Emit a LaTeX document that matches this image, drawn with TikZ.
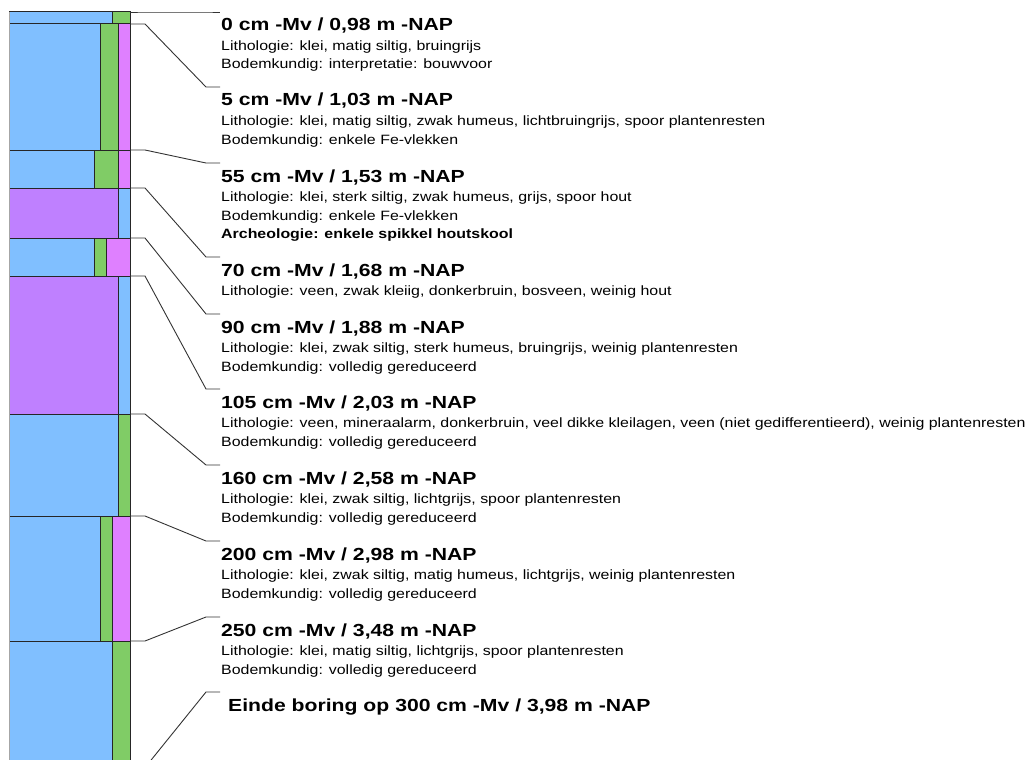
\documentclass[tikz,border=0pt]{standalone}
\usepackage{fontspec}
\setmainfont{Liberation Sans}[FakeStretch=1.18]
\newfontfamily\hdfont{Liberation Sans}[FakeStretch=1.21]
\definecolor{cblue}{RGB}{128,191,255}
\definecolor{cgreen}{RGB}{128,204,102}
\definecolor{cpink}{RGB}{223,128,255}
\definecolor{cpurple}{RGB}{191,128,255}
\newcommand\mkblock[4]{%
  \coordinate (s#1) at (130,#3);
  \coordinate (k#1) at (220,#2);
  \draw[conn] (s#1) -- ++(15,0) -- ([xshift=-14pt]k#1) -- (k#1);
  \node[hd] (h#1) at (221,#2+19) {#4};}
\begin{document}
\begin{tikzpicture}[x=1pt,y=-1pt,
  hd/.style={anchor=base west,inner sep=0pt,font=\hdfont\bfseries\fontsize{17.5}{19}\selectfont},
  tx/.style={anchor=base west,inner sep=0pt,font=\fontsize{13.5}{15}\selectfont},
  txb/.style={anchor=base west,inner sep=0pt,font=\bfseries\fontsize{13.5}{15}\selectfont},
  conn/.style={draw=black!80,line width=0.9pt},
  lay/.style={draw=black!85,line width=1pt}]
\useasboundingbox (0,0) rectangle (1029,760);
\clip (0,0) rectangle (1029,760);
% ---- column ----
\path[lay,fill=cblue] (9,12) rectangle (112,24);
\path[lay,fill=cgreen] (112,12) rectangle (130,24);
\path[lay,fill=cblue] (9,24) rectangle (100,150);
\path[lay,fill=cgreen] (100,24) rectangle (118,150);
\path[lay,fill=cpink] (118,24) rectangle (130,150);
\path[lay,fill=cblue] (9,150) rectangle (94,188);
\path[lay,fill=cgreen] (94,150) rectangle (118,188);
\path[lay,fill=cpink] (118,150) rectangle (130,188);
\path[lay,fill=cpurple] (9,188) rectangle (118,238);
\path[lay,fill=cblue] (118,188) rectangle (130,238);
\path[lay,fill=cblue] (9,238) rectangle (94,276);
\path[lay,fill=cgreen] (94,238) rectangle (106,276);
\path[lay,fill=cpink] (106,238) rectangle (130,276);
\path[lay,fill=cpurple] (9,276) rectangle (118,414);
\path[lay,fill=cblue] (118,276) rectangle (130,414);
\path[lay,fill=cblue] (9,414) rectangle (118,516);
\path[lay,fill=cgreen] (118,414) rectangle (130,516);
\path[lay,fill=cblue] (9,516) rectangle (100,641);
\path[lay,fill=cgreen] (100,516) rectangle (112,641);
\path[lay,fill=cpink] (112,516) rectangle (130,641);
\path[lay,fill=cblue] (9,641) rectangle (112,768);
\path[lay,fill=cgreen] (112,641) rectangle (130,768);
\draw[gray!70,line width=1pt] (9,12) -- (9,760);
% ---- labels ----
\mkblock{0}{12}{12}{0 cm -Mv / 0,98 m -NAP}
\node[tx] (a0) at ([yshift=-19.5pt]h0.base west) {Lithologie: klei, matig siltig, bruingrijs};
\node[tx] (b0) at ([yshift=-38pt]h0.base west) {Bodemkundig: interpretatie: bouwvoor};
\mkblock{5}{87}{24}{5 cm -Mv / 1,03 m -NAP}
\node[tx] (a5) at ([yshift=-19.5pt]h5.base west) {Lithologie: klei, matig siltig, zwak humeus, lichtbruingrijs, spoor plantenresten};
\node[tx] (b5) at ([yshift=-38pt]h5.base west) {Bodemkundig: enkele Fe-vlekken};
\mkblock{55}{163}{150}{55 cm -Mv / 1,53 m -NAP}
\node[tx] (a55) at ([yshift=-19.5pt]h55.base west) {Lithologie: klei, sterk siltig, zwak humeus, grijs, spoor hout};
\node[tx] (b55) at ([yshift=-38pt]h55.base west) {Bodemkundig: enkele Fe-vlekken};
\node[txb] (c55) at ([yshift=-56.5pt]h55.base west) {Archeologie: enkele spikkel houtskool};
\mkblock{70}{257}{188}{70 cm -Mv / 1,68 m -NAP}
\node[tx] (a70) at ([yshift=-19.5pt]h70.base west) {Lithologie: veen, zwak kleiig, donkerbruin, bosveen, weinig hout};
\mkblock{90}{314}{238}{90 cm -Mv / 1,88 m -NAP}
\node[tx] (a90) at ([yshift=-19.5pt]h90.base west) {Lithologie: klei, zwak siltig, sterk humeus, bruingrijs, weinig plantenresten};
\node[tx] (b90) at ([yshift=-38pt]h90.base west) {Bodemkundig: volledig gereduceerd};
\mkblock{105}{389}{276}{105 cm -Mv / 2,03 m -NAP}
\node[tx] (a105) at ([yshift=-19.5pt]h105.base west) {Lithologie: veen, mineraalarm, donkerbruin, veel dikke kleilagen, veen (niet gedifferentieerd), weinig plantenresten};
\node[tx] (b105) at ([yshift=-38pt]h105.base west) {Bodemkundig: volledig gereduceerd};
\mkblock{160}{465}{414}{160 cm -Mv / 2,58 m -NAP}
\node[tx] (a160) at ([yshift=-19.5pt]h160.base west) {Lithologie: klei, zwak siltig, lichtgrijs, spoor plantenresten};
\node[tx] (b160) at ([yshift=-38pt]h160.base west) {Bodemkundig: volledig gereduceerd};
\mkblock{200}{541}{516}{200 cm -Mv / 2,98 m -NAP}
\node[tx] (a200) at ([yshift=-19.5pt]h200.base west) {Lithologie: klei, zwak siltig, matig humeus, lichtgrijs, weinig plantenresten};
\node[tx] (b200) at ([yshift=-38pt]h200.base west) {Bodemkundig: volledig gereduceerd};
\mkblock{250}{617}{641}{250 cm -Mv / 3,48 m -NAP}
\node[tx] (a250) at ([yshift=-19.5pt]h250.base west) {Lithologie: klei, matig siltig, lichtgrijs, spoor plantenresten};
\node[tx] (b250) at ([yshift=-38pt]h250.base west) {Bodemkundig: volledig gereduceerd};
% ---- end of boring ----
\coordinate (s300) at (130,767.6);
\coordinate (k300) at (220,692);
\draw[conn] (s300) -- ++(15,0) -- ([xshift=-14pt]k300) -- (k300);
\node[hd] (h300) at (228,711) {Einde boring op 300 cm -Mv / 3,98 m -NAP};
\end{tikzpicture}
\end{document}
